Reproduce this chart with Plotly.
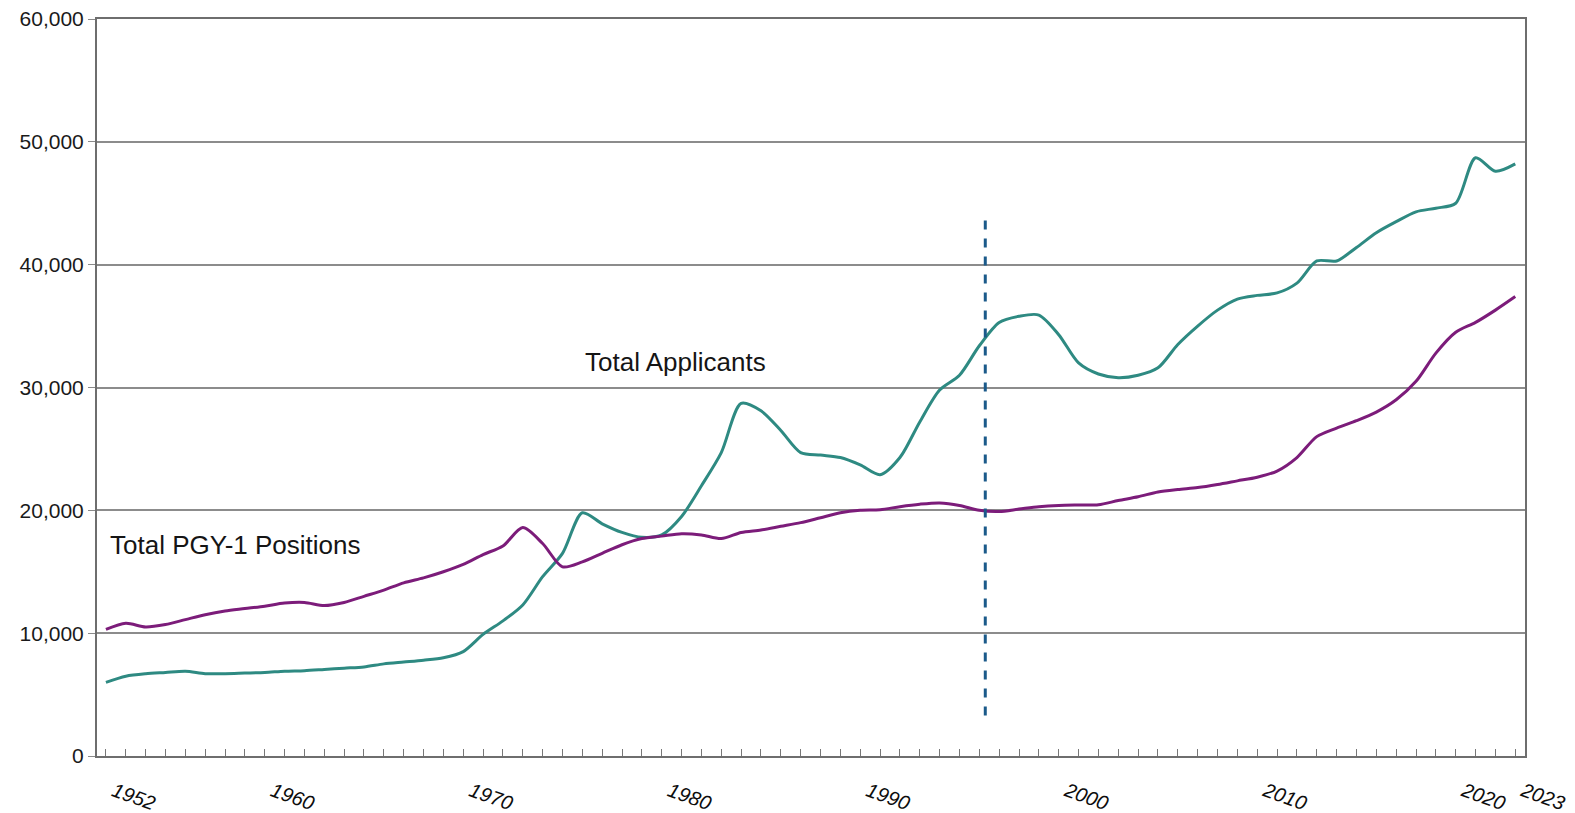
import plotly.graph_objects as go

years = list(range(1952, 2024))

total_applicants = [
    6000, 6500, 6700, 6800, 6900, 6700, 6700, 6750, 6800, 6900,   # 1952-1961
    6950, 7050, 7150, 7250, 7500, 7650, 7800, 8000, 8500, 9900,   # 1962-1971
    11000, 12300, 14600, 16500, 19800, 18900, 18200, 17800, 18000, 19500,  # 1972-1981
    22000, 24700, 28700, 28100, 26500, 24700, 24500, 24300, 23700, 22900,  # 1982-1991
    24300, 27200, 29800, 31000, 33400, 35300, 35800, 35900, 34300, 32000,  # 1992-2001
    31100, 30800, 31000, 31600, 33500, 35000, 36300, 37200, 37500, 37700,  # 2002-2011
    38500, 40300, 40300, 41400, 42600, 43500, 44300, 44600, 45000, 48700,  # 2012-2021
    47600, 48200,                                                         # 2022-2023
]

total_pgy1_positions = [
    10300, 10800, 10500, 10700, 11100, 11500, 11800, 12000, 12200, 12450,  # 1952-1961
    12500, 12250, 12500, 13000, 13500, 14100, 14500, 15000, 15600, 16400,  # 1962-1971
    17100, 18600, 17300, 15400, 15800, 16500, 17200, 17700, 17900, 18100,  # 1972-1981
    18000, 17700, 18200, 18400, 18700, 19000, 19400, 19800, 20000, 20050,  # 1982-1991
    20300, 20500, 20600, 20400, 20000, 19900, 20100, 20300, 20400, 20430,  # 1992-2001
    20450, 20800, 21100, 21500, 21700, 21850, 22100, 22400, 22700, 23200,  # 2002-2011
    24300, 26000, 26700, 27300, 28000, 29000, 30500, 32800, 34500, 35300,  # 2012-2021
    36300, 37400,                                                          # 2022-2023
]

x_tick_years = [1952, 1960, 1970, 1980, 1990, 2000, 2010, 2020, 2023]
x_tick_labels = [str(y) for y in x_tick_years]
y_tick_values = [0, 10000, 20000, 30000, 40000, 50000, 60000]
y_tick_labels = ["0", "10,000", "20,000", "30,000", "40,000", "50,000", "60,000"]

marker_year = [1996.3, 1996.3]
marker_range = [3300, 43800]

label_applicants = ("Total Applicants", 1980.7, 32100)
label_positions = ("Total PGY-1 Positions", 1952.1, 17200)

TEAL = "#2E8A82"
PURPLE = "#7C1C7A"
FONT = "Liberation Sans, Arial"

fig = go.Figure()
fig.add_trace(go.Scatter(
    x=years, y=total_applicants, mode="lines", name="Total Applicants",
    line=dict(color=TEAL, width=3, shape="spline", smoothing=0.8),
))
fig.add_trace(go.Scatter(
    x=years, y=total_pgy1_positions, mode="lines", name="Total PGY-1 Positions",
    line=dict(color=PURPLE, width=3, shape="spline", smoothing=0.8),
))
fig.add_trace(go.Scatter(
    x=marker_year, y=marker_range, mode="lines", showlegend=False,
    line=dict(color="#1B5A8A", width=3, dash="dash"),
))

for text, xv, yv in [label_applicants]:
    fig.add_annotation(x=xv, y=yv, text=text, showarrow=False, xanchor="center",
                       yanchor="middle", font=dict(family=FONT, size=26, color="#151515"))
for text, xv, yv in [label_positions]:
    fig.add_annotation(x=xv, y=yv, text=text, showarrow=False, xanchor="left",
                       yanchor="middle", font=dict(family=FONT, size=26, color="#151515"))

fig.update_layout(
    autosize=True,
    margin=dict(l=97, r=50, t=19, b=57, autoexpand=False),
    paper_bgcolor="white", plot_bgcolor="white",
    showlegend=False,
    font=dict(family=FONT, color="#1a1a1a"),
)
fig.update_xaxes(
    automargin=False,
    range=[1951.55, 2023.49],
    tickmode="array", tickvals=x_tick_years, ticktext=x_tick_labels,
    tickangle=20, ticklabelshift=8, ticklabelstandoff=14,
    ticklabeloverflow="allow",
    tickfont=dict(size=20, style="italic", color="#0d0d0d"),
    ticks="inside", ticklen=7, tickcolor="#777777",
    minor=dict(dtick=1, tick0=1952, ticks="inside", ticklen=7, tickcolor="#777777", showgrid=False),
    showgrid=False, zeroline=False,
    showline=True, linecolor="#6e6e6e", linewidth=2, mirror=True,
)
fig.update_yaxes(
    automargin=False,
    range=[0, 60000],
    tickmode="array", tickvals=y_tick_values, ticktext=y_tick_labels,
    ticklabeloverflow="allow",
    tickfont=dict(size=21, color="#1a1a1a"),
    ticks="outside", ticklen=7, tickcolor="#8a8a8a",
    showgrid=True, gridcolor="#8c8c8c", gridwidth=2,
    zeroline=False,
    showline=True, linecolor="#6e6e6e", linewidth=2, mirror=True,
)

fig.write_html(
    "out.html",
    config={"displayModeBar": False, "responsive": True},
    default_width="100vw",
    default_height="100vh; position:fixed; top:0; left:0",
)
